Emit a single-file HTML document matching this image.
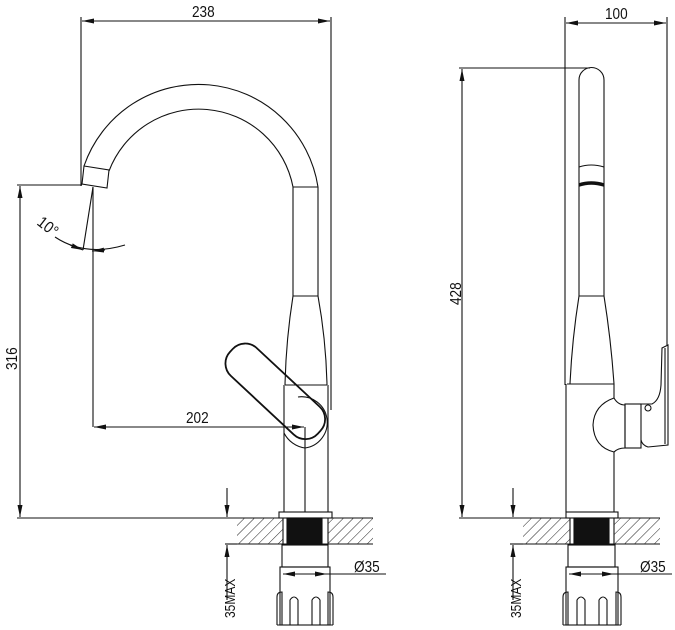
<!DOCTYPE html>
<html><head><meta charset="utf-8"><style>
html,body{margin:0;padding:0;background:#fff;}
svg{display:block;}
text{font-family:"Liberation Sans",Arial,sans-serif;font-size:16px;fill:#111;}
</style></head><body>
<svg width="675" height="630" viewBox="0 0 675 630" xmlns="http://www.w3.org/2000/svg">
<defs>
<pattern id="h" width="7" height="7" patternUnits="userSpaceOnUse" patternTransform="rotate(45)">
<line x1="0" y1="0" x2="0" y2="7" stroke="#222" stroke-width="1"/>
</pattern>
<marker id="a" markerWidth="12" markerHeight="6" refX="12" refY="3" orient="auto" markerUnits="userSpaceOnUse">
<path d="M0,0.5 L12,3 L0,5.5 Z" fill="#111"/></marker>
<marker id="b" markerWidth="12" markerHeight="6" refX="0" refY="3" orient="auto" markerUnits="userSpaceOnUse">
<path d="M12,0.5 L0,3 L12,5.5 Z" fill="#111"/></marker>
</defs>
<g fill="none" stroke="#111" stroke-width="1.1">
<line x1="81" y1="17" x2="81" y2="186"/>
<line x1="331" y1="17" x2="331" y2="410"/>
<line x1="82" y1="21" x2="330" y2="21" marker-start="url(#b)" marker-end="url(#a)"/>
<path d="M84,166 A121,121 0 0 1 318,187"/>
<path d="M109,171 A96,96 0 0 1 293,187"/>
<path d="M84,166 L109,170 L107,188 L82,184 Z"/>
<line x1="293" y1="187" x2="318" y2="187"/>
<line x1="293" y1="187" x2="293" y2="296"/>
<line x1="318" y1="187" x2="318" y2="296"/>
<line x1="293" y1="296" x2="318" y2="296"/>
<path d="M293,296 Q286,340 285,385"/>
<path d="M318,296 Q326,340 327,385"/>
<line x1="285" y1="385" x2="327" y2="385"/>
<line x1="284" y1="385" x2="284" y2="512"/>
<line x1="328" y1="385" x2="328" y2="512"/>
<line x1="305" y1="427" x2="305" y2="512"/>
<path d="M298,397 A24,24 0 0 1 305,448 A28,28 0 0 1 284,433"/>
<rect x="215" y="373" width="120" height="38" rx="17" transform="rotate(43 276 392)" stroke-width="1.8"/>
<line x1="93" y1="187" x2="93" y2="427"/>
<line x1="93" y1="187" x2="83" y2="250"/>
<path d="M55,237 Q85,257 125,245" />
<path d="M70,245 L83,250" marker-end="url(#a)"/>
<path d="M105,250 L92,251" marker-end="url(#a)"/>
<line x1="94" y1="427" x2="304" y2="427" marker-start="url(#b)" marker-end="url(#a)"/>
<line x1="17" y1="185" x2="82" y2="185"/>
<line x1="17" y1="518" x2="285" y2="518"/>
<line x1="20" y1="186" x2="20" y2="517" marker-start="url(#b)" marker-end="url(#a)"/>
<rect x="237" y="518" width="46" height="26" fill="url(#h)" stroke="none"/>
<rect x="328" y="518" width="45" height="26" fill="url(#h)" stroke="none"/>
<line x1="237" y1="544" x2="373" y2="544"/>
<line x1="328" y1="518" x2="373" y2="518"/>
<rect x="287" y="518" width="35" height="26" fill="#111"/>
<line x1="283" y1="518" x2="283" y2="544"/><line x1="328" y1="518" x2="328" y2="544"/>
<rect x="279" y="512" width="53" height="6"/>
<rect x="282" y="545" width="46" height="22"/>
<rect x="280" y="567" width="50" height="58"/>
<path d="M277,625 L277,597 Q277,592 282,592 L282,625"/>
<path d="M333,625 L333,597 Q333,592 328,592 L328,625"/>
<path d="M290,625 L290,600 Q294,594 298,600 L298,625"/>
<path d="M312,625 L312,600 Q316,594 320,600 L320,625"/>
<line x1="277" y1="625" x2="333" y2="625"/>
<line x1="283" y1="574" x2="327" y2="574" marker-start="url(#b)" marker-end="url(#a)"/>
<line x1="327" y1="574" x2="386" y2="574"/>
<line x1="227" y1="488" x2="227" y2="517" marker-end="url(#a)"/>
<line x1="227" y1="600" x2="227" y2="545" marker-end="url(#a)"/>
<line x1="225" y1="544" x2="237" y2="544"/>

<line x1="565" y1="17" x2="565" y2="385"/>
<line x1="667" y1="17" x2="667" y2="345"/>
<line x1="566" y1="23" x2="666" y2="23" marker-start="url(#b)" marker-end="url(#a)"/>
<line x1="459" y1="68" x2="590" y2="68"/>
<line x1="459" y1="518" x2="566" y2="518"/>
<line x1="462" y1="69" x2="462" y2="517" marker-start="url(#b)" marker-end="url(#a)"/>
<path d="M579,296 L579,80 A12.5,12.5 0 0 1 604,80 L604,296"/>
<path d="M579,167 Q591,163 604,167"/>
<path d="M579,185 Q591,181 604,185" stroke-width="3.5"/>
<line x1="579" y1="296" x2="604" y2="296"/>
<path d="M579,296 Q572,340 570,384"/>
<path d="M604,296 Q611,340 614,384"/>
<line x1="567" y1="384" x2="614" y2="384"/>
<line x1="566" y1="384" x2="566" y2="512"/>
<line x1="614" y1="384" x2="614" y2="398"/>
<line x1="614" y1="452" x2="614" y2="512"/>
<path d="M614,398 Q594,405 593,425 Q594,447 614,452"/>
<path d="M614,398 Q618,405 625,405 L625,448 Q618,448 614,452"/>
<rect x="625" y="404" width="16" height="44"/>
<circle cx="648" cy="408" r="3"/>
<path d="M641,404 L652,404 Q660,400 661,385 L662,348 L668,345 L668,445 L648,447 Q642,445 641,440"/>
<line x1="665" y1="348" x2="665" y2="444"/>
<rect x="523" y="518" width="47" height="26" fill="url(#h)" stroke="none"/>
<rect x="614" y="518" width="46" height="26" fill="url(#h)" stroke="none"/>
<line x1="523" y1="544" x2="660" y2="544"/>
<line x1="614" y1="518" x2="660" y2="518"/>
<rect x="574" y="518" width="35" height="26" fill="#111"/>
<line x1="570" y1="518" x2="570" y2="544"/><line x1="614" y1="518" x2="614" y2="544"/>
<rect x="566" y="512" width="52" height="6"/>
<rect x="568" y="545" width="47" height="22"/>
<rect x="566" y="567" width="52" height="58"/>
<path d="M563,625 L563,597 Q563,592 568,592 L568,625"/>
<path d="M621,625 L621,597 Q621,592 616,592 L616,625"/>
<path d="M577,625 L577,600 Q581,594 585,600 L585,625"/>
<path d="M599,625 L599,600 Q603,594 607,600 L607,625"/>
<line x1="563" y1="625" x2="621" y2="625"/>
<line x1="569" y1="574" x2="614" y2="574" marker-start="url(#b)" marker-end="url(#a)"/>
<line x1="614" y1="574" x2="672" y2="574"/>
<line x1="513" y1="488" x2="513" y2="517" marker-end="url(#a)"/>
<line x1="513" y1="600" x2="513" y2="545" marker-end="url(#a)"/>
<line x1="510" y1="544" x2="523" y2="544"/>
</g>
<g>
<text transform="translate(192,17) scale(0.85,1)">238</text>
<text transform="translate(186,423) scale(0.85,1)">202</text>
<text transform="translate(354,572) scale(0.85,1)">Ø35</text>
<text transform="translate(640,572) scale(0.85,1)">Ø35</text>
<text transform="translate(605,19) scale(0.85,1)">100</text>
<text transform="translate(36,224) rotate(38) scale(0.9,1)">10°</text>
<text transform="translate(17,370) rotate(-90) scale(0.85,1)">316</text>
<text transform="translate(461,305) rotate(-90) scale(0.85,1)">428</text>
<text transform="translate(235,618) rotate(-90) scale(0.8,1)" style="font-size:15px">35MAX</text>
<text transform="translate(521,618) rotate(-90) scale(0.8,1)" style="font-size:15px">35MAX</text>
</g>
</svg>
</body></html>
